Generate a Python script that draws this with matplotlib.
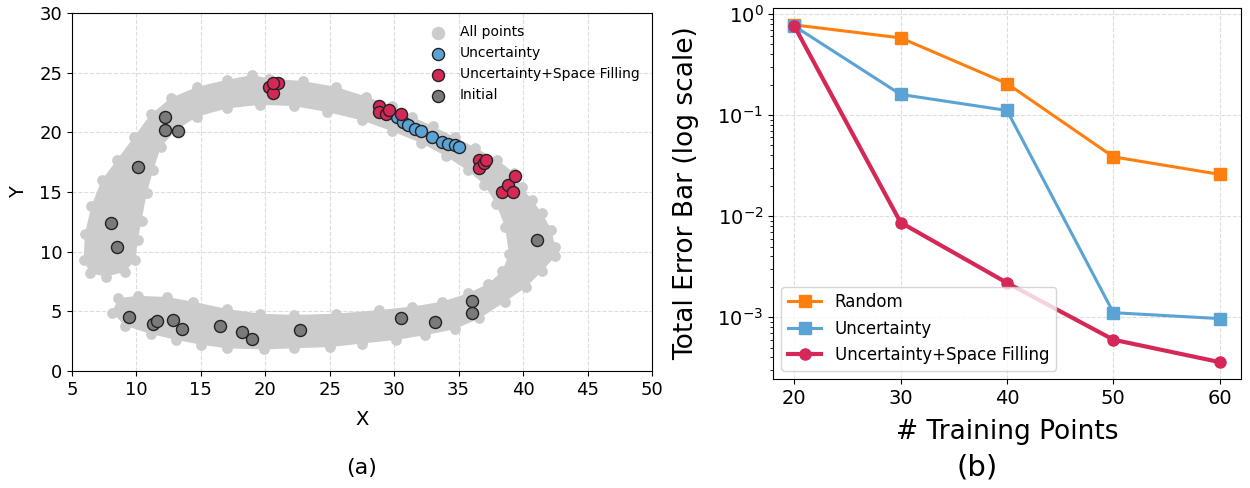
# ==========================================================
# ACTIVE LEARNING SAMPLING FIGURE
# (a) selected points on the data band
# (b) error bar vs number of training points
# ==========================================================

import numpy as np
import matplotlib.pyplot as plt

# ==========================================================
# DATA - PANEL (a)
# ==========================================================

# outline of the gray band of all candidate points
band_x = [8.1, 9.1, 11.1, 13.1, 15.0, 17.0, 19.9, 22.2, 25.0, 27.5,
          30.1, 32.4, 34.7, 36.6, 38.6, 40.2, 41.5, 42.5, 42.5, 42.2,
          41.5, 40.7, 39.9, 39.3, 38.0, 36.3, 34.7, 33.0, 31.4, 29.8,
          27.8, 25.5, 22.9, 20.3, 19.0, 17.0, 14.7, 12.7, 11.1, 9.8,
          8.5, 7.3, 6.5, 6.0, 5.9, 6.4, 7.6, 9.1, 9.9, 10.1,
          10.4, 10.8, 11.3, 11.9, 13.1, 14.7, 17.0, 19.6, 22.2, 24.8,
          27.5, 29.8, 32.1, 34.0, 35.7, 37.0, 37.9, 38.6, 38.9, 38.4,
          37.3, 35.7, 33.7, 31.4, 28.8, 25.5, 22.2, 19.6, 17.0, 14.4,
          12.4, 10.1, 8.6]
band_y = [4.9, 3.8, 3.1, 2.6, 2.2, 1.9, 1.8, 1.9, 2.0, 2.3,
          2.6, 3.0, 3.5, 4.4, 5.8, 7.0, 8.4, 9.6, 10.4, 11.8,
          13.2, 14.3, 15.4, 16.6, 17.7, 18.7, 19.6, 20.5, 21.3, 22.2,
          23.0, 23.8, 24.3, 24.5, 24.8, 24.4, 23.8, 22.9, 21.5, 19.6,
          17.7, 16.0, 13.8, 11.5, 9.3, 8.2, 7.9, 8.3, 9.3, 11.0,
          12.6, 14.9, 16.8, 18.8, 20.2, 21.3, 22.0, 22.3, 22.2, 21.7,
          21.0, 20.1, 19.1, 18.0, 16.8, 15.6, 14.0, 12.1, 9.8, 8.4,
          7.3, 6.5, 5.8, 5.4, 5.1, 4.8, 4.7, 4.8, 5.2, 5.8,
          6.2, 6.3, 6.1]

unc_x = [30.2, 30.7, 31.1, 31.6, 32.1, 32.9, 33.7, 34.2, 34.7, 35.0]
unc_y = [21.3, 20.9, 20.6, 20.3, 20.1, 19.6, 19.2, 19.0, 18.9, 18.8]

usf_x = [20.3, 20.6, 21.0, 20.6, 28.8, 28.8, 29.4, 29.6, 30.5,
         36.6, 36.6, 37.0, 37.1, 38.4, 38.8, 39.2, 39.4]
usf_y = [23.8, 23.3, 24.1, 24.1, 22.2, 21.7, 21.5, 21.9, 21.5,
         17.7, 17.0, 17.4, 17.7, 15.0, 15.6, 15.0, 16.3]

init_x = [12.2, 12.2, 13.2, 10.1, 8.0, 8.5, 9.4, 11.3, 11.6, 12.8,
          13.5, 16.5, 18.2, 19.0, 22.7, 30.5, 33.2, 36.0, 36.0, 41.1]
init_y = [21.3, 20.2, 20.1, 17.1, 12.4, 10.4, 4.5, 3.9, 4.2, 4.3,
          3.5, 3.8, 3.3, 2.7, 3.4, 4.4, 4.1, 5.9, 4.9, 11.0]

# ==========================================================
# DATA - PANEL (b)
# ==========================================================

n_train = [20, 30, 40, 50, 60]

err_random = [0.78, 0.58, 0.205, 0.0386, 0.0259]
err_uncertainty = [0.76, 0.160, 0.111, 0.00111, 0.00097]
err_unc_space = [0.76, 0.00865, 0.00219, 0.00060, 0.00036]

# ==========================================================
# COLORS
# ==========================================================

GRAY = "#cccccc"
BLUE = "#5ba3d5"
RED = "#d62857"
ORANGE = "#ff7f0e"
DARK = "#7a7a7a"

# ==========================================================
# FIGURE
# ==========================================================

fig = plt.figure(figsize=(12.5, 4.88), dpi=100)

ax1 = fig.add_axes([0.0576, 0.2398, 0.464, 0.7336])
ax2 = fig.add_axes([0.6184, 0.2234, 0.3744, 0.7602])

# ==========================================================
# PANEL (a)
# ==========================================================

ax1.fill(band_x, band_y, color=GRAY, lw=0, zorder=1)

ax1.scatter(band_x, band_y, s=45, color=GRAY,
            label="All points", zorder=1)

ax1.scatter(unc_x, unc_y, s=75, color=BLUE,
            edgecolor="#222222", linewidth=1,
            label="Uncertainty", zorder=3)

ax1.scatter(usf_x, usf_y, s=75, color=RED,
            edgecolor="#222222", linewidth=1,
            label="Uncertainty+Space Filling", zorder=4)

ax1.scatter(init_x, init_y, s=75, color=DARK,
            edgecolor="#222222", linewidth=1,
            label="Initial", zorder=5)

ax1.set_xlim(5, 50)
ax1.set_ylim(0, 30)
ax1.set_xticks(np.arange(5, 51, 5))
ax1.set_yticks(np.arange(0, 31, 5))

ax1.tick_params(labelsize=13)

ax1.set_xlabel("X", fontsize=14, labelpad=8)
ax1.set_ylabel("Y", fontsize=14, labelpad=8)

ax1.grid(True, linestyle="--", color="#dddddd", linewidth=0.8)
ax1.set_axisbelow(True)

leg1 = ax1.legend(loc="upper right", frameon=False, fontsize=10,
                  handletextpad=0.6)

# same marker size for the gray entry as for the others
leg1.legend_handles[0].set_sizes([75])

# ==========================================================
# PANEL (b)
# ==========================================================

ax2.plot(n_train, err_random, marker="s", color=ORANGE,
         linewidth=2.2, markersize=8, label="Random")

ax2.plot(n_train, err_uncertainty, marker="s", color=BLUE,
         linewidth=2.2, markersize=8, label="Uncertainty")

ax2.plot(n_train, err_unc_space, marker="o", color=RED,
         linewidth=3, markersize=8,
         label="Uncertainty+Space Filling")

ax2.set_yscale("log")
ax2.set_xticks(n_train)

ax2.tick_params(labelsize=14)

ax2.set_xlabel("# Training Points", fontsize=19, labelpad=8)
ax2.set_ylabel("Total Error Bar (log scale)", fontsize=19,
               labelpad=13)

ax2.grid(True, which="major", linestyle="--",
         color="#dddddd", linewidth=0.8)

ax2.legend(loc="lower left", fontsize=12)

# ==========================================================
# SUB-FIGURE LABELS
# ==========================================================

fig.text(0.2896, 0.041, "(a)", fontsize=16,
         ha="center", va="center")

fig.text(0.7816, 0.041, "(b)", fontsize=21,
         ha="center", va="center")

plt.savefig("out.png", dpi=100)
